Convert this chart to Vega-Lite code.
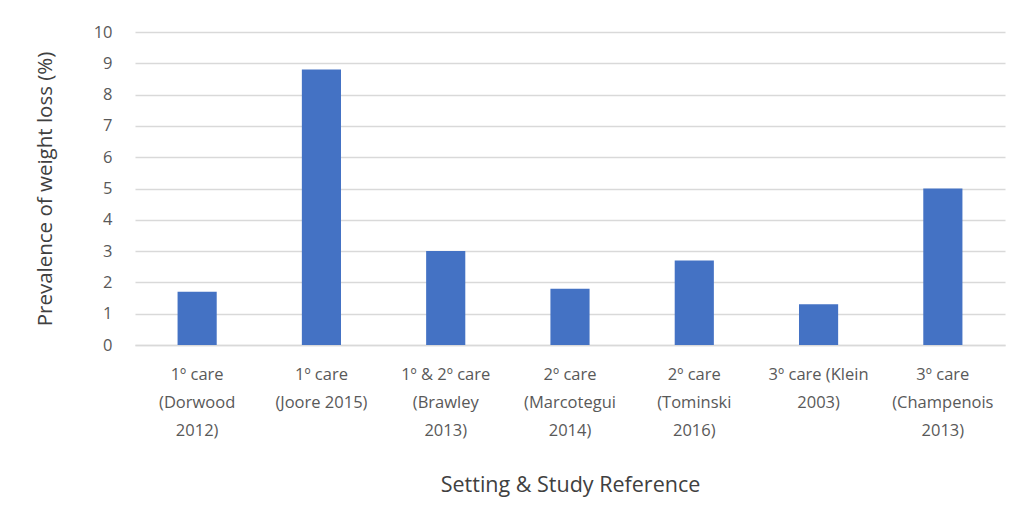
{
  "$schema": "https://vega.github.io/schema/vega-lite/v6.json",
  "width": 870,
  "height": 313,
  "autosize": "none",
  "padding": {"left": 135, "top": 32, "right": 16, "bottom": 184},
  "background": "white",
  "config": {
    "view": {"stroke": null},
    "font": "Open Sans"
  },
  "data": {
    "values": [
      {"label": "1º care|(Dorwood|2012)", "value": 1.7},
      {"label": "1º care|(Joore 2015)", "value": 8.8},
      {"label": "1º & 2º care|(Brawley|2013)", "value": 3.0},
      {"label": "2º care|(Marcotegui|2014)", "value": 1.8},
      {"label": "2º care|(Tominski|2016)", "value": 2.7},
      {"label": "3º care (Klein|2003)", "value": 1.3},
      {"label": "3º care|(Champenois|2013)", "value": 5.0}
    ]
  },
  "mark": {"type": "bar", "color": "#4472C4"},
  "encoding": {
    "x": {
      "field": "label",
      "type": "nominal",
      "sort": null,
      "scale": {"paddingInner": 0.685, "paddingOuter": 0.3425},
      "axis": {
        "title": "Setting & Study Reference",
        "titleFontSize": 21.5,
        "titleFontWeight": "normal",
        "titleColor": "#404040",
        "titleBaseline": "middle",
        "titleY": 140,
        "labelExpr": "split(datum.label, '|')",
        "labelAngle": 0,
        "labelFontSize": 16.5,
        "labelColor": "#595959",
        "labelLineHeight": 28,
        "labelPadding": 21,
        "labelBaseline": "top",
        "labelOverlap": false,
        "ticks": false,
        "domainColor": "#D9D9D9",
        "domainWidth": 1.5
      }
    },
    "y": {
      "field": "value",
      "type": "quantitative",
      "scale": {"domain": [0, 10]},
      "axis": {
        "title": "Prevalence of weight loss (%)",
        "titleFontSize": 20.5,
        "titleFontWeight": "normal",
        "titleColor": "#404040",
        "titleX": -90,
        "titleBaseline": "middle",
        "values": [0,1,2,3,4,5,6,7,8,9,10],
        "labelOverlap": false,
        "labelFontSize": 16.5,
        "labelColor": "#595959",
        "labelPadding": 23,
        "ticks": false,
        "domain": false,
        "gridColor": "#D9D9D9",
        "gridWidth": 1.3
      }
    }
  }
}
